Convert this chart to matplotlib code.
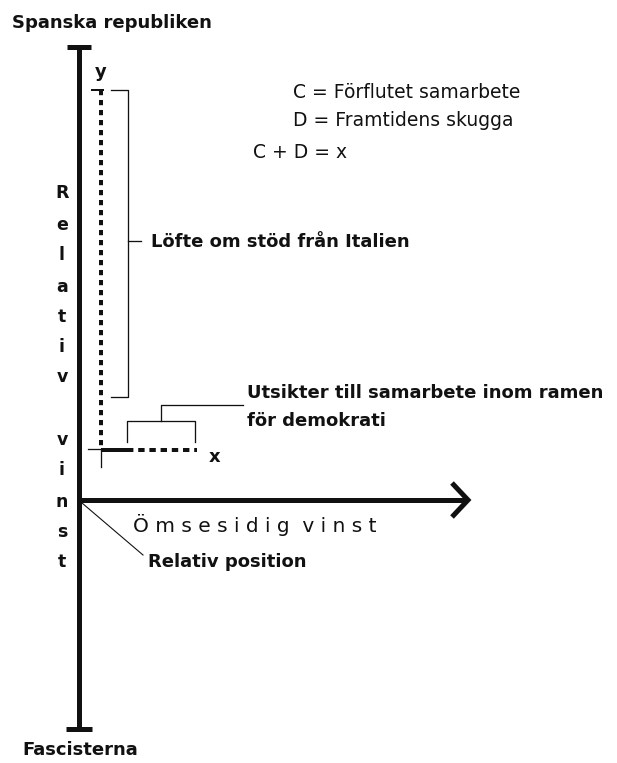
import matplotlib
matplotlib.use("Agg")
import matplotlib.pyplot as plt

# ---- diagram content (text) ----
title_top = "Spanska republiken"
title_bottom = "Fascisterna"
y_axis_letters = ["R", "e", "l", "a", "t", "i", "v", "v", "i", "n", "s", "t"]
x_axis_label = "Ö m s e s i d i g  v i n s t"
legend_lines = ["C = Förflutet samarbete", "D = Framtidens skugga", "C + D = x"]
label_italy = "Löfte om stöd från Italien"
label_demo = "Utsikter till samarbete inom ramen\nför demokrati"
label_relpos = "Relativ position"

# diagram geometry in diagram units (pixels of the canvas)
y_letter_pos = [193, 225, 255, 287, 317, 347, 377, 440, 470, 502, 532, 562]
origin = (79, 500)
y_top, y_bottom = 47, 729
x_arrow_end = 468
point_rel = (101, 450)
y_value = 90
x_value = 197

W, H = 617, 763
fig = plt.figure(figsize=(W / 100, H / 100), dpi=100)
ax = fig.add_axes([0, 0, 1, 1])
ax.set_xlim(0, W)
ax.set_ylim(H, 0)
ax.axis("off")

px = 0.72  # points per pixel
FONT = "DejaVu Sans"
K = "#111111"

# vertical axis with caps
ax.plot([origin[0], origin[0]], [y_top, y_bottom], color=K, lw=5 * px, solid_capstyle="butt")
ax.plot([origin[0] - 12, origin[0] + 12], [y_top, y_top], color=K, lw=5 * px, solid_capstyle="butt")
ax.plot([origin[0] - 13, origin[0] + 13], [y_bottom, y_bottom], color=K, lw=5 * px, solid_capstyle="butt")

# horizontal axis with chevron arrow
ax.plot([origin[0], x_arrow_end - 2], [origin[1], origin[1]], color=K, lw=5 * px, solid_capstyle="butt")
ax.plot([x_arrow_end - 16, x_arrow_end, x_arrow_end - 16],
        [origin[1] - 17, origin[1], origin[1] + 17], color=K, lw=5 * px,
        solid_joinstyle="miter", solid_capstyle="butt")

# dotted vertical line (y)
ax.plot([point_rel[0], point_rel[0]], [y_value, point_rel[1]], color=K, lw=4 * px,
        linestyle=(0, (1.3, 1.2)), solid_capstyle="butt", dash_capstyle="butt")
ax.plot([point_rel[0] - 9, point_rel[0] + 2], [y_value, y_value], color=K, lw=2 * px)

# horizontal line (x): solid part then dashed
ax.plot([point_rel[0], 127], [point_rel[1], point_rel[1]], color=K, lw=4 * px, solid_capstyle="butt")
ax.plot([127, x_value], [point_rel[1], point_rel[1]], color=K, lw=4 * px,
        linestyle=(0, (1.6, 1.2)), dash_capstyle="butt")

# small cross at relative point
ax.plot([point_rel[0] - 13, point_rel[0]], [point_rel[1] - 1, point_rel[1] - 1], color=K, lw=1.3 * px)
ax.plot([point_rel[0], point_rel[0]], [point_rel[1], point_rel[1] + 17], color=K, lw=1.3 * px)

# bracket for Italy
ax.plot([111, 128, 128, 111], [90, 90, 397, 397], color=K, lw=1.3 * px)
ax.plot([128, 141], [241, 241], color=K, lw=1.3 * px)

# bracket for democracy
ax.plot([127, 127, 195, 195], [442, 421, 421, 442], color=K, lw=1.3 * px)
ax.plot([161, 161, 243], [421, 405, 405], color=K, lw=1.3 * px)

# relative position pointer
ax.plot([82, 143], [503, 555], color=K, lw=1.1 * px)

bold = dict(family=FONT, fontweight="bold", color=K)
semi = dict(family=FONT, fontweight="normal", color=K)

ax.text(12, 23, title_top, fontsize=13, ha="left", va="center", **bold)
ax.text(22, 750, title_bottom, fontsize=13, ha="left", va="center", **bold)

for letter, yy in zip(y_axis_letters, y_letter_pos):
    ax.text(62, yy, letter, fontsize=12.5, ha="center", va="center", **bold)

ax.text(133, 525, x_axis_label, fontsize=14.5, ha="left", va="center", **semi)
ax.text(148, 562, label_relpos, fontsize=13, ha="left", va="center", **bold)
ax.text(151, 242, label_italy, fontsize=13, ha="left", va="center", **bold)
ax.text(247, 393, label_demo.split("\n")[0], fontsize=13, ha="left", va="center", **bold)
ax.text(247, 421, label_demo.split("\n")[1], fontsize=13, ha="left", va="center", **bold)
ax.text(101, 72, "y", fontsize=13, ha="center", va="center", **bold)
ax.text(215, 457, "x", fontsize=13, ha="center", va="center", **bold)

ax.text(293, 93, legend_lines[0], fontsize=13.5, ha="left", va="center", **semi)
ax.text(293, 120, legend_lines[1], fontsize=13.5, ha="left", va="center", **semi)
ax.text(253, 152, legend_lines[2], fontsize=13.5, ha="left", va="center", **semi)

fig.savefig("out.png", dpi=100)
